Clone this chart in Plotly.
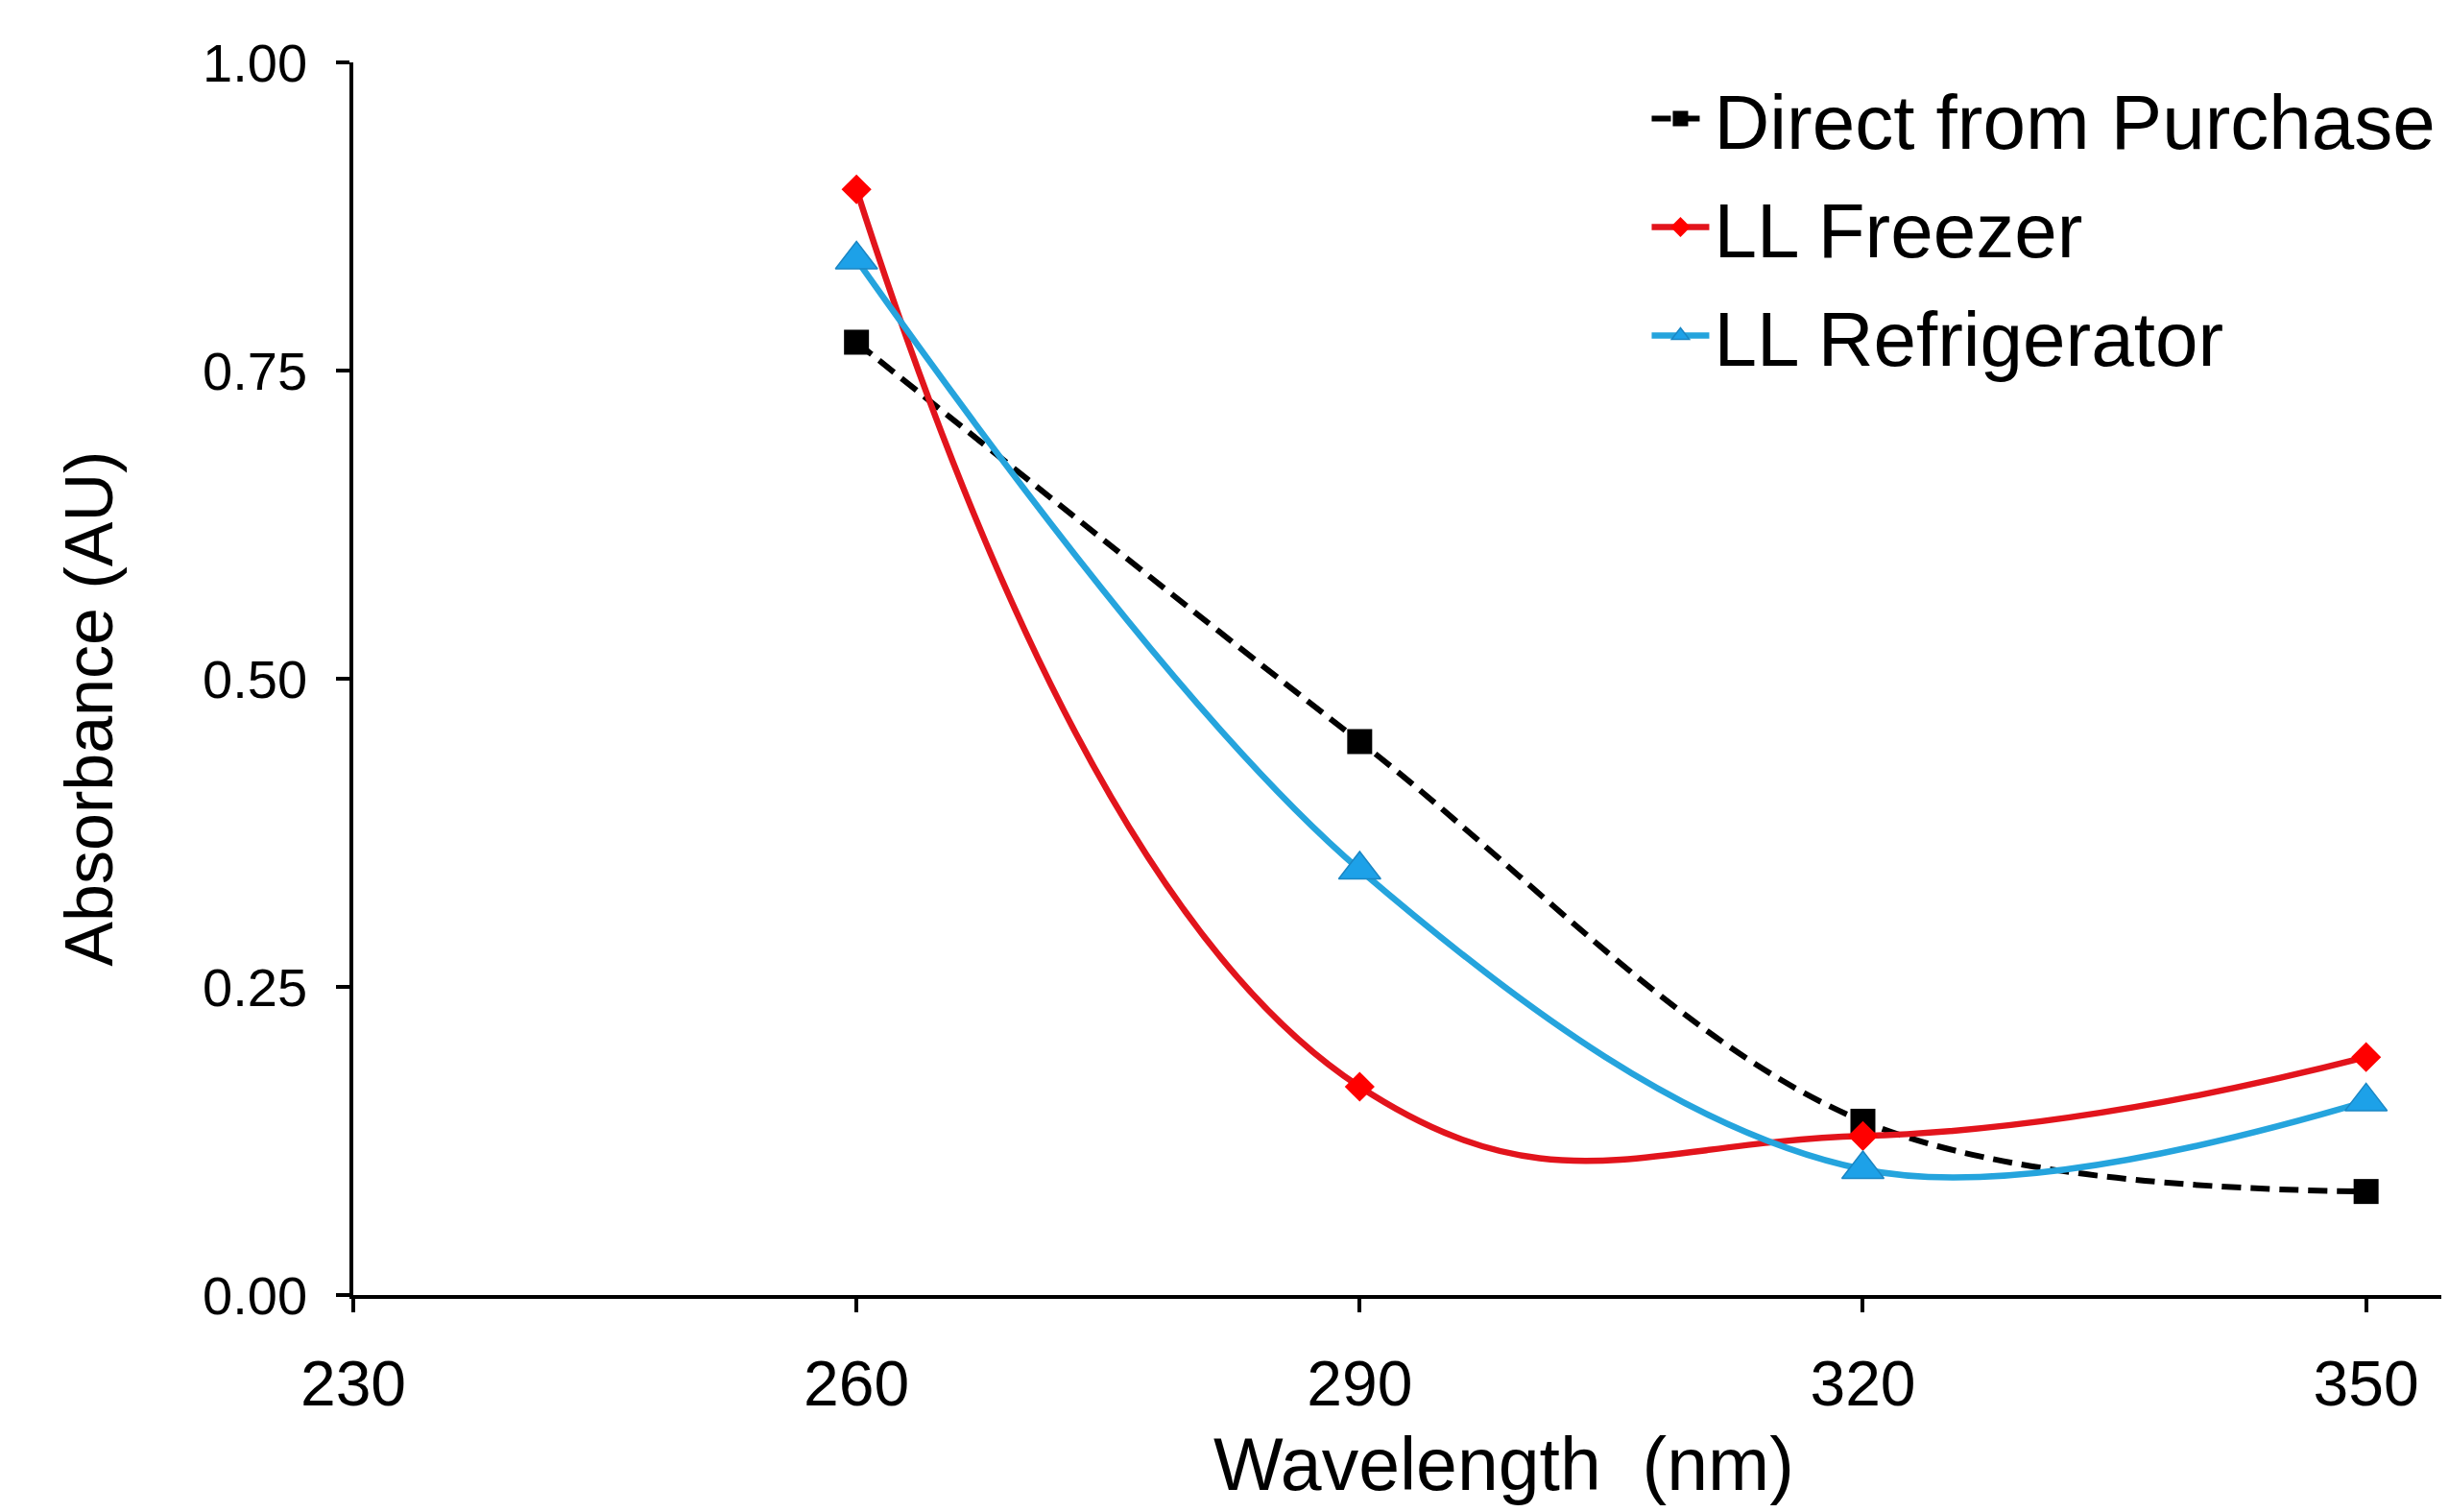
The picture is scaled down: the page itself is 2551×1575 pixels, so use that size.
import plotly.graph_objects as go

wavelength = [260, 290, 320, 350]
direct_purchase = [0.773, 0.449, 0.141, 0.084]
ll_freezer = [0.897, 0.169, 0.129, 0.193]
ll_refrigerator = [0.840, 0.345, 0.102, 0.157]

x_ticks = [230, 260, 290, 320, 350]
y_ticks = [0.0, 0.25, 0.5, 0.75, 1.0]

FONT = "Arial, Liberation Sans, sans-serif"

fig = go.Figure()
fig.add_trace(go.Scatter(
    x=wavelength, y=direct_purchase, name="Direct from Purchase",
    mode="lines+markers", legendgroup="a",
    line=dict(color="#000000", width=6, dash="20px,10px", shape="spline", smoothing=1),
    marker=dict(symbol="square", size=26, color="#000000"),
))
fig.add_trace(go.Scatter(
    x=wavelength, y=ll_freezer, name="LL Freezer",
    mode="lines+markers", legendgroup="b",
    line=dict(color="#E2141C", width=6.5, shape="spline", smoothing=1.3),
    marker=dict(symbol="diamond", size=24, color="#FF0000"),
))
fig.add_trace(go.Scatter(
    x=wavelength, y=ll_refrigerator, name="LL Refrigerator",
    mode="lines+markers", legendgroup="c",
    line=dict(color="#25A4DD", width=6.5, shape="spline", smoothing=1),
    marker=dict(symbol="triangle-up", size=38, color="#1DA1E8",
                line=dict(color="#1A86C4", width=1.5)),
))

fig.update_layout(
    width=2551, height=1575,
    margin=dict(l=360, r=0, t=57, b=234, autoexpand=False),
    paper_bgcolor="white", plot_bgcolor="white",
    font=dict(family=FONT, color="#000000"),
    showlegend=True,
    legend=dict(
        x=0.615, y=1.0, xanchor="left", yanchor="top",
        font=dict(size=80, family=FONT, color="#000000"),
        bgcolor="rgba(0,0,0,0)", itemwidth=60, tracegroupgap=6,
        traceorder="grouped",
    ),
    hovermode=False,
    annotations=[
        dict(text="Wavelength  (nm)", xref="paper", yref="paper",
             x=0.547, y=-0.137, xanchor="center", yanchor="middle",
             showarrow=False, font=dict(size=77, family=FONT, color="#000000")),
        dict(text="Absorbance (AU)", xref="paper", yref="paper",
             x=-0.1256, y=0.476, xanchor="center", yanchor="middle",
             textangle=-90, showarrow=False,
             font=dict(size=70, family=FONT, color="#000000")),
    ],
)
fig.update_xaxes(
    range=[230, 355.4], tickvals=x_ticks, ticktext=[str(v) for v in x_ticks],
    showgrid=False, zeroline=False,
    showline=True, linecolor="#000000", linewidth=3.5,
    ticks="outside", ticklen=14, tickwidth=3.5, tickcolor="#000000",
    tickfont=dict(size=66, family=FONT), ticklabelstandoff=18,
)
fig.update_yaxes(
    range=[0, 1.0], tickvals=y_ticks, ticktext=[f"{v:.2f}" for v in y_ticks],
    showgrid=False, zeroline=False,
    showline=True, linecolor="#000000", linewidth=3.5,
    ticks="outside", ticklen=14, tickwidth=3.5, tickcolor="#000000",
    tickfont=dict(size=56, family=FONT), ticklabelstandoff=19,
)

fig.write_html("out.html")
